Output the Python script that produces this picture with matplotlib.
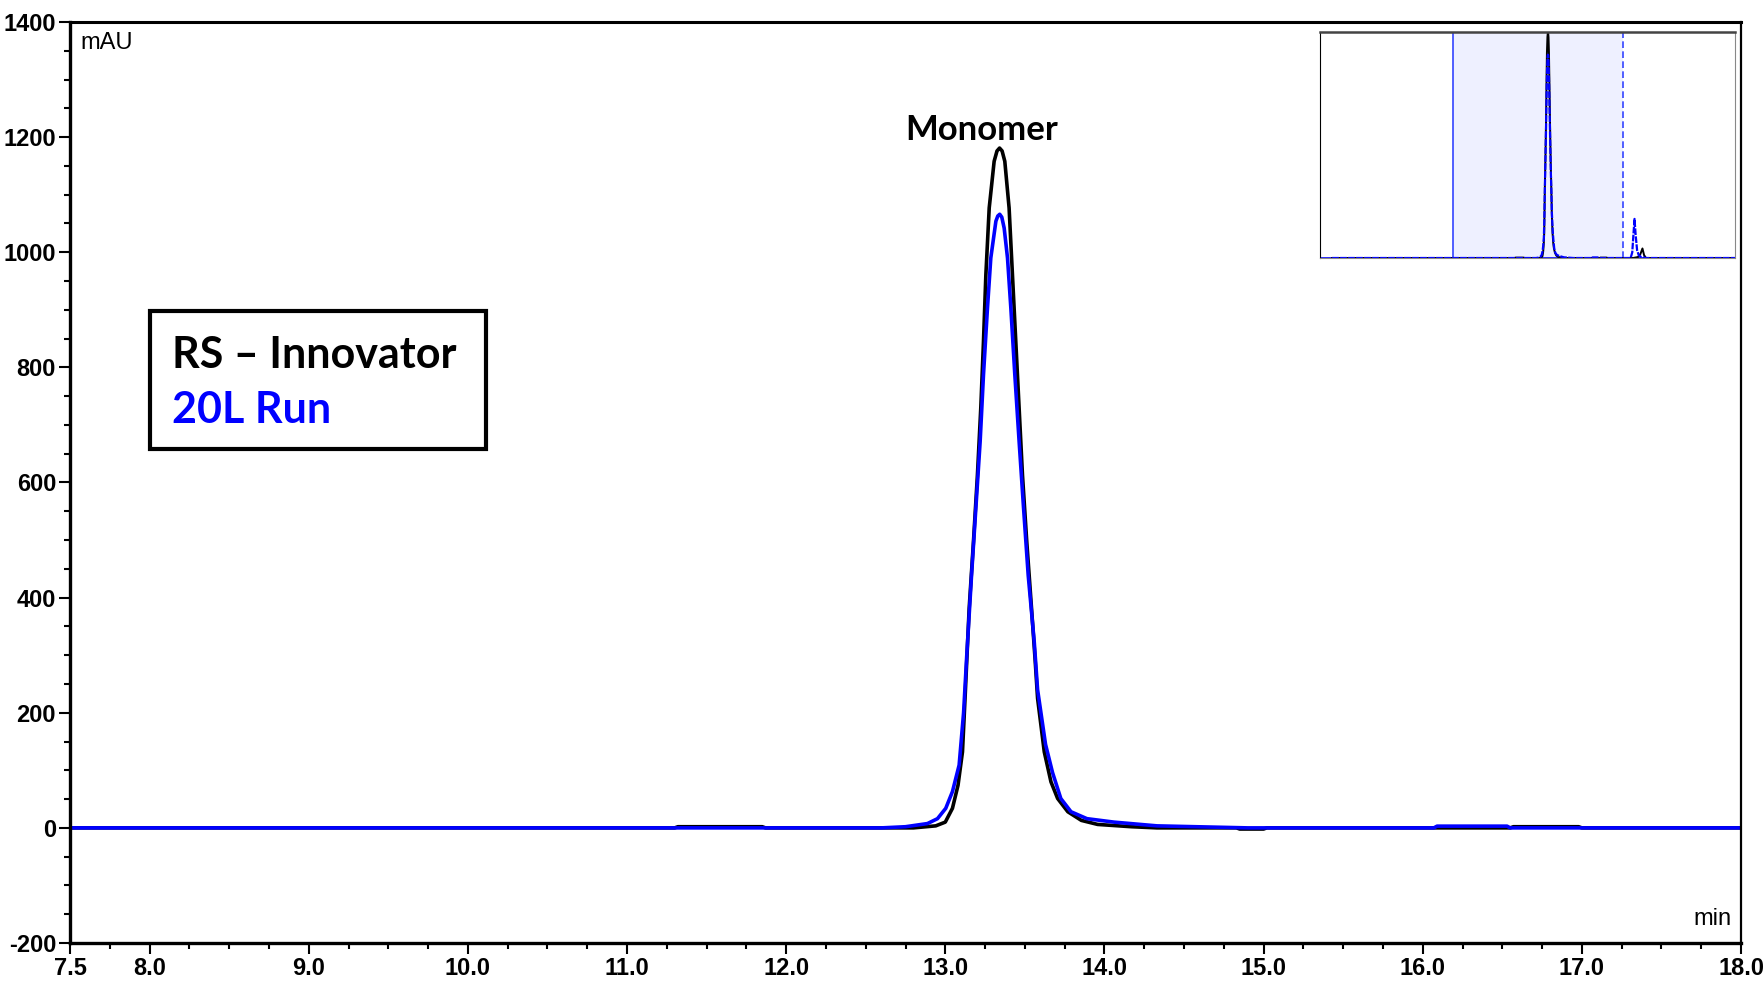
import numpy as np
import matplotlib
matplotlib.use("Agg")
import matplotlib.pyplot as plt
from matplotlib.patches import Rectangle
from matplotlib.ticker import MultipleLocator, FixedLocator

# retention time (min) / absorbance (mAU)
t_innov = [0.0, 7.5, 11.30, 11.32, 11.85, 11.87, 12.80, 12.94, 13.00, 13.045, 13.08,
           13.108, 13.125, 13.150, 13.177, 13.202, 13.223, 13.240, 13.255, 13.276,
           13.307, 13.325, 13.341, 13.357, 13.374, 13.401, 13.422, 13.443, 13.464,
           13.485, 13.512, 13.542, 13.565, 13.58, 13.622, 13.664, 13.706, 13.77,
           13.855, 13.957, 14.17, 14.33, 14.83, 14.85, 15.0, 15.02, 16.55, 16.57,
           16.98, 17.0, 18.0, 18.6, 18.9, 19.05, 19.18, 19.28, 19.4, 24.9]
y_innov = [0, 0, 0, 2, 2, 0, 0, 3.5, 10, 34, 74,
           132, 230, 381, 497, 613, 729, 845, 961, 1077,
           1158, 1176, 1181, 1176, 1158, 1077, 961, 845, 729,
           613, 497, 381, 290, 225, 132, 80, 51, 28,
           13, 6, 2, 0, 0, -2, -2, 0, 0, 2,
           2, 0, 0, 0, 5, 20, 50, 15, 0, 0]

t_run = [0.0, 7.5, 12.60, 12.75, 12.888, 12.951, 13.003, 13.045, 13.087, 13.115,
         13.135, 13.165, 13.192, 13.219, 13.240, 13.265, 13.286, 13.318, 13.33,
         13.342, 13.355, 13.370, 13.391, 13.412, 13.437, 13.464, 13.492, 13.521,
         13.559, 13.58, 13.63, 13.674, 13.726, 13.79, 13.89, 14.06, 14.33, 14.9,
         16.07, 16.09, 16.53, 16.55, 18.0, 18.45, 18.55, 18.62, 18.69, 18.76,
         18.85, 18.95, 19.1, 19.4, 24.9]
y_run = [0, 0, 0, 2, 7.5, 16, 34, 63, 109, 200,
         300, 439, 555, 671, 787, 903, 990, 1054, 1063,
         1066, 1061, 1042, 990, 903, 787, 671, 555, 439,
         323, 240, 145, 96, 51, 28, 16, 10, 3.5, 0,
         0, 3, 3, 0, 0, 0, 30, 120, 205, 120,
         40, 15, 5, 0, 0]

x_major = [7.5, 8.0, 9.0, 10.0, 11.0, 12.0, 13.0, 14.0, 15.0, 16.0, 17.0, 18.0]
y_major = [-200, 0, 200, 400, 600, 800, 1000, 1200, 1400]

narrow = ["Liberation Sans Narrow", "Liberation Sans", "DejaVu Sans"]
calib = ["Lato", "DejaVu Sans"]

fig = plt.figure(figsize=(17.63, 9.85), dpi=100)
ax = fig.add_axes([70 / 1763, 1 - 943 / 985, 1671 / 1763, 921 / 985])

ax.plot(t_innov, y_innov, color="black", lw=2.6, solid_joinstyle="round")
ax.plot(t_run, y_run, color="#0000ff", lw=2.6, solid_joinstyle="round")

ax.set_xlim(7.5, 18.0)
ax.set_ylim(-200, 1400)
ax.xaxis.set_major_locator(FixedLocator(x_major))
ax.xaxis.set_minor_locator(MultipleLocator(0.25))
ax.yaxis.set_major_locator(FixedLocator(y_major))
ax.yaxis.set_minor_locator(MultipleLocator(50))
ax.set_xticklabels(["%.1f" % v for v in x_major])
ax.set_yticklabels([str(v) for v in y_major])
ax.tick_params(which="major", direction="out", length=8, width=1.5, pad=2)
ax.tick_params(which="minor", direction="out", length=4.5, width=1.5)
for lab in ax.get_xticklabels() + ax.get_yticklabels():
  lab.set_family(narrow)
  lab.set_fontweight("bold")
  lab.set_fontsize(17)
for s in ax.spines.values():
  s.set_linewidth(1.6)
ax.spines["left"].set_linewidth(2.4)
ax.spines["bottom"].set_linewidth(2.4)
ax.spines["top"].set_linewidth(2.2)

ax.text(0.006, 0.977, "mAU", transform=ax.transAxes, ha="left", va="center",
        family=narrow, fontsize=17)
ax.text(0.9946, 0.02, "min", transform=ax.transAxes, ha="right", va="baseline",
        family=narrow, fontsize=17)
ax.text(13.23, 1195, "Monomer", ha="center", va="baseline", family=calib,
        fontweight="bold", fontsize=25)

# legend box
ax.add_patch(Rectangle((0.0479, 0.5364), 0.2011, 0.1498, transform=ax.transAxes,
                       fill=False, lw=3, edgecolor="black", zorder=5))
ax.text(0.061, 0.6243, "RS \u2013 Innovator", transform=ax.transAxes, ha="left",
        va="baseline", family=calib, fontweight="bold", fontsize=31, color="black")
ax.text(0.061, 0.5646, "20L Run", transform=ax.transAxes, ha="left",
        va="baseline", family=calib, fontweight="bold", fontsize=31, color="#0000ff")

# overview inset
ins = fig.add_axes([1320 / 1763, 1 - 258 / 985, 415 / 1763, 226 / 985])
ins.axvspan(7.5, 18.0, facecolor="#eef0ff", edgecolor="none")
ins.axvline(7.5, color="#3344ff", lw=1.2)
ins.axvline(18.0, color="#3344ff", lw=1.2, ls=(0, (4, 2)))
ins.axhline(0, color="#0000ff", lw=1.2)
ins.plot(t_innov, y_innov, color="black", lw=1.4)
ins.plot(t_run, y_run, color="#0000ff", lw=1.6, ls=(0, (3, 0.6)))
ins.set_xlim(-0.75, 24.9)
ins.set_ylim(0, 1185)
ins.set_xticks([])
ins.set_yticks([])
ins.spines["left"].set_color("black")
ins.spines["top"].set_color("#444444")
ins.spines["top"].set_linewidth(1.8)
ins.spines["right"].set_color("#888888")
ins.spines["bottom"].set_color("#888888")

fig.savefig("out.png", dpi=100)
